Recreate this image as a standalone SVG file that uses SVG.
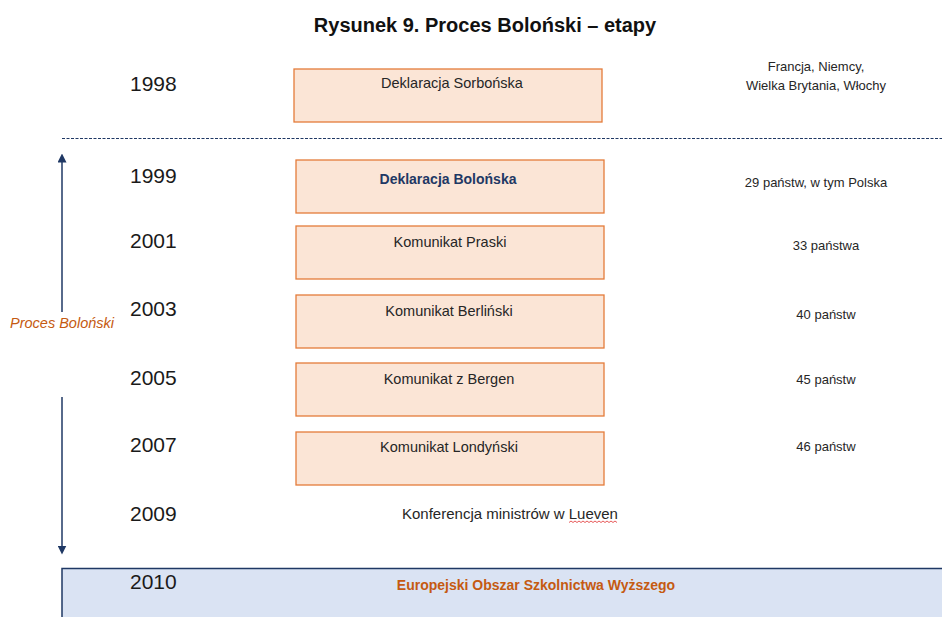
<svg xmlns="http://www.w3.org/2000/svg" width="942" height="617" viewBox="0 0 942 617">
<defs>
<style>
.yr{font-family:"Liberation Sans",Arial,sans-serif;font-size:21px;fill:#1a1a1a}
.bx{fill:#fbe5d6;stroke:#e47c3a;stroke-width:1.3}
.bt{font-family:"Liberation Sans",Arial,sans-serif;font-size:14.5px;fill:#262626;text-anchor:middle}
.rt{font-family:"Liberation Sans",Arial,sans-serif;font-size:13px;fill:#262626;text-anchor:middle}
.nv{stroke:#1f3864;fill:none}
</style>
<marker id="ah" viewBox="0 0 10 10" refX="5" refY="5" markerWidth="6" markerHeight="6" orient="auto">
<path d="M0,0 L10,5 L0,10 z" fill="#1f3864"/>
</marker>
</defs>
<rect width="942" height="617" fill="#ffffff"/>
<text x="485" y="32" text-anchor="middle" font-family="Liberation Sans,Arial,sans-serif" font-weight="bold" font-size="20" fill="#111">Rysunek 9. Proces Boloński – etapy</text>

<g id="connectors">
<line class="nv" x1="62" y1="138.5" x2="942" y2="138.5" stroke-width="1" stroke-dasharray="3 1.5"/>
<line class="nv" x1="62" y1="312" x2="62" y2="158" stroke-width="1.5" marker-end="url(#ah)"/>
<line class="nv" x1="62" y1="397" x2="62" y2="550" stroke-width="1.5" marker-end="url(#ah)"/>
</g>

<g id="label-proces">
<text x="62" y="328" text-anchor="middle" font-family="Liberation Sans,Arial,sans-serif" font-style="italic" font-size="14.5" fill="#c55a11">Proces Boloński</text>
</g>

<g id="n1998">
<text class="yr" x="130" y="91">1998</text>
<rect class="bx" x="294" y="69" width="308" height="53"/>
<text class="bt" x="452" y="88">Deklaracja Sorbońska</text>
<text class="rt" x="816" y="71">Francja, Niemcy,</text>
<text class="rt" x="816" y="90">Wielka Brytania, Włochy</text>
</g>

<g id="n1999">
<text class="yr" x="130" y="183">1999</text>
<rect class="bx" x="296" y="160" width="308" height="53"/>
<text class="bt" x="448" y="184" font-weight="bold" style="fill:#1f3864;font-size:14px">Deklaracja Bolońska</text>
<text class="rt" x="816" y="187">29 państw, w tym Polska</text>
</g>

<g id="n2001">
<text class="yr" x="130" y="248">2001</text>
<rect class="bx" x="296" y="226" width="308" height="53"/>
<text class="bt" x="450" y="247">Komunikat Praski</text>
<text class="rt" x="826" y="250">33 państwa</text>
</g>

<g id="n2003">
<text class="yr" x="130" y="316">2003</text>
<rect class="bx" x="296" y="295" width="308" height="53"/>
<text class="bt" x="449" y="316">Komunikat Berliński</text>
<text class="rt" x="826" y="319">40 państw</text>
</g>

<g id="n2005">
<text class="yr" x="130" y="385">2005</text>
<rect class="bx" x="296" y="363" width="308" height="53"/>
<text class="bt" x="449" y="384">Komunikat z Bergen</text>
<text class="rt" x="826" y="384">45 państw</text>
</g>

<g id="n2007">
<text class="yr" x="130" y="452">2007</text>
<rect class="bx" x="296" y="432" width="308" height="53"/>
<text class="bt" x="449" y="452">Komunikat Londyński</text>
<text class="rt" x="826" y="451">46 państw</text>
</g>

<g id="n2009">
<text class="yr" x="130" y="521">2009</text>
<text class="bt" x="510" y="519" style="font-size:15px">Konferencja ministrów w Lueven</text>
<path d="M569,522.5 l2,-1.5 l2,1.5 l2,-1.5 l2,1.5 l2,-1.5 l2,1.5 l2,-1.5 l2,1.5 l2,-1.5 l2,1.5 l2,-1.5 l2,1.5 l2,-1.5 l2,1.5 l2,-1.5 l2,1.5 l2,-1.5 l2,1.5 l2,-1.5 l2,1.5 l2,-1.5 l2,1.5 l2,-1.5 l2,1.5" fill="none" stroke="#e03030" stroke-width="0.8"/>
</g>

<g id="n2010">
<rect x="62" y="568.5" width="890" height="60" fill="#dae3f3" stroke="#1f3864" stroke-width="1.5"/>
<text class="yr" x="130" y="589">2010</text>
<text x="536" y="590" text-anchor="middle" font-family="Liberation Sans,Arial,sans-serif" font-weight="bold" font-size="14" fill="#c55a11">Europejski Obszar Szkolnictwa Wyższego</text>
</g>
</svg>
